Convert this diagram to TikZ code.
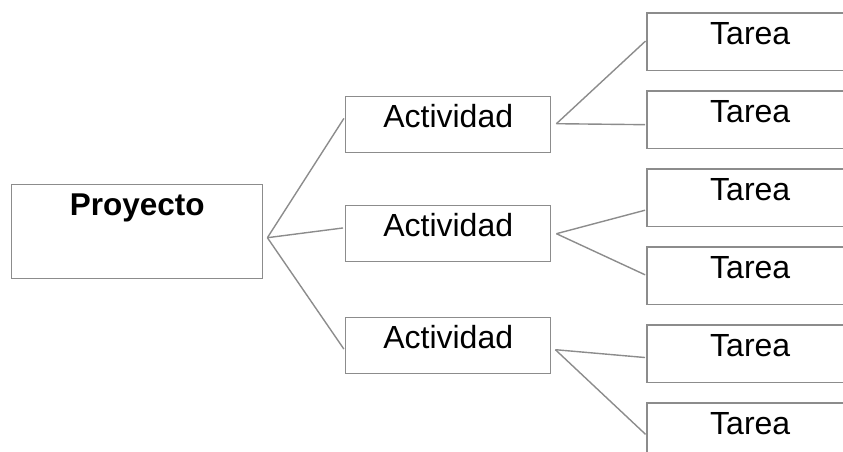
\documentclass[tikz,border=0pt]{standalone}
\usepackage{fontspec}
\setmainfont{Liberation Sans}
\definecolor{gris}{HTML}{8C8C8C}

\begin{document}
\begin{tikzpicture}[x=1pt,y=-1pt,
  caja/.style={draw=gris,line width=1.4pt,rectangle,inner sep=0pt,anchor=north west,
    minimum width=205pt,text height=31pt,text depth=25pt,font=\fontsize{32}{36}\selectfont},
  borde/.style={draw=gris,line width=1.4pt},
  rama/.style={draw=gris,line width=1.4pt,shorten >=2pt}]

\useasboundingbox (0,0) rectangle (843,452);
\clip (0,0) rectangle (843,452);

% proyecto
\node[caja,minimum width=251pt,text depth=63pt,font=\bfseries\fontsize{31.5}{36}\selectfont] (proy) at (11,184) {Proyecto};

% actividades
\node[caja] (act1) at (345,96) {Actividad};
\node[caja] (act2) at (345,205) {Actividad};
\node[caja] (act3) at (345,317) {Actividad};

% tareas, open on the right
\foreach \i/\y in {1/13,2/91,3/169,4/247,5/325,6/403}{
  \node[caja,draw=none] (tar\i) at (647,\y) {Tarea};
  \draw[borde] ([xshift=60]tar\i.north east) -- (tar\i.north west)
    -- (tar\i.south west) -- ([xshift=60]tar\i.south east);
}

\coordinate (jp) at ([shift={(4,6)}]proy.east);
\coordinate (j1) at ([shift={(5,-1)}]act1.east);
\coordinate (j2) at ([shift={(5,0)}]act2.east);
\coordinate (j3) at ([shift={(4,4)}]act3.east);

\draw[rama] (jp) -- ([yshift=8]act1.west);
\draw[rama] (jp) -- ([yshift=6]act2.west);
\draw[rama] (jp) -- ([yshift=-5]act3.west);

\draw[rama] (j1) -- ([yshift=2]tar1.west);
\draw[rama] (j1) -- ([yshift=-5]tar2.west);
\draw[rama] (j2) -- ([yshift=-12]tar3.west);
\draw[rama] (j2) -- ([yshift=0]tar4.west);
\draw[rama] (j3) -- ([yshift=-4]tar5.west);
\draw[rama] (j3) -- ([yshift=-4]tar6.west);

\end{tikzpicture}
\end{document}
